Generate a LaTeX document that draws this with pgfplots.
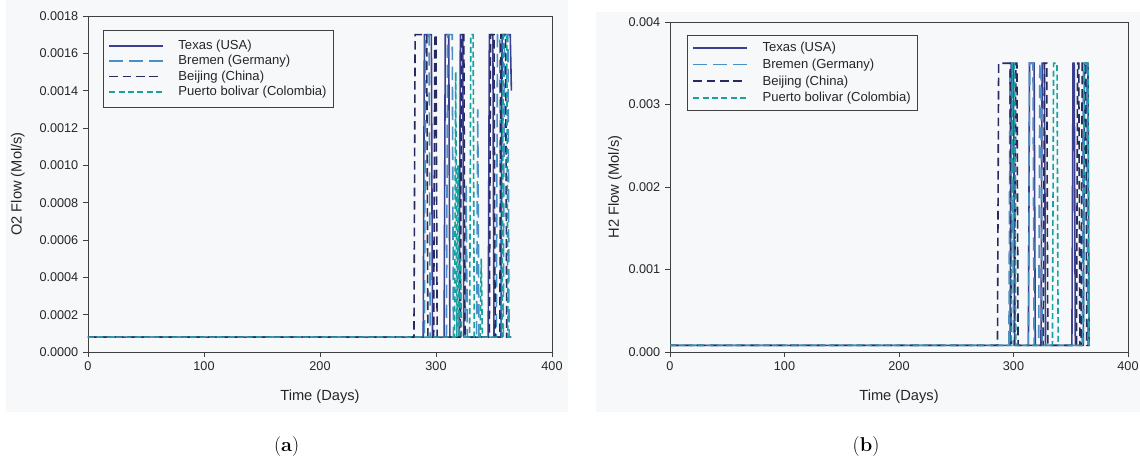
\documentclass[border=0pt]{standalone}
\usepackage{pgfplots}
\pgfplotsset{compat=1.18}
\usepackage{fontspec}
\setmainfont{Liberation Sans}
\newfontfamily\capfont{Latin Modern Roman}
\definecolor{bgc}{HTML}{F7F8F9}
\definecolor{texas}{HTML}{3B3F8F}
\definecolor{bremen}{HTML}{4A90C8}
\definecolor{beijing}{HTML}{262A5E}
\definecolor{puerto}{HTML}{17A2A0}
\pgfplotsset{
  common/.style={
    scale only axis,
    xmin=0, xmax=400,
    xtick={0,100,200,300,400},
    axis line style={draw=black!75, line width=0.6pt},
    tick style={draw=black!75, line width=0.6pt},
    tick align=outside,
    xtick pos=bottom, ytick pos=left,
    major tick length=3.75pt,
    scaled y ticks=false,
    /pgf/number format/assume math mode=true,
    tick label style={font=\fontsize{9.5}{11}\selectfont, text=black!85},
    label style={font=\fontsize{11}{13}\selectfont, text=black!85},
    legend style={draw=black!75, line width=0.6pt, fill=none,
      font=\fontsize{9.8}{11}\selectfont, text=black!85,
      inner xsep=4pt, anchor=north west,
      nodes={inner sep=1.2pt}},
    legend cell align=left,
    legend image code/.code={\draw[#1] (0pt,0pt) -- (40pt,0pt);},
    clip=false,
  },
  tx/.style={texas, line width=1.2pt},
  br/.style={bremen, line width=1.2pt, dash pattern=on 10pt off 5pt},
  bj/.style={beijing, line width=1.2pt, dash pattern=on 6.5pt off 3.5pt},
  pb/.style={puerto, line width=1.2pt, dash pattern=on 4.5pt off 2.5pt},
}
\begin{document}
\begin{tikzpicture}[x=1pt,y=1pt]
\useasboundingbox (0,0) rectangle (855,-348.75);
\fill[bgc] (4.5,0) rectangle (426,-309);
\fill[bgc] (447,-9) rectangle (855,-309);
% ---------------- panel (a)
\begin{axis}[common, at={(66pt,-12pt)}, anchor=north west,
  width=348pt, height=252pt,
  ymin=0, ymax=0.0018,
  ytick={0,0.0002,0.0004,0.0006,0.0008,0.0010,0.0012,0.0014,0.0016,0.0018},
  yticklabel style={/pgf/number format/.cd, fixed, fixed zerofill, precision=4},
  xlabel={Time (Days)}, ylabel={O2 Flow (Mol/s)},
  xlabel style={at={(axis description cs:0.5,-0.134)}, anchor=center},
  ylabel style={at={(axis description cs:-0.151,0.5)}, anchor=center},
  legend style={at={(0.032,0.958)}, inner ysep=6pt,
    /tikz/every odd column/.append style={column sep=10pt}, /tikz/row sep=0.5pt},
]
\addplot[tx] coordinates {(0,0.00008) (289,0.00008) (290,0.0017) (296,0.0017) (297,0.00008) (307,0.00008) (308,0.0017) (311,0.0017) (312,0.00008) (320,0.00008) (321,0.0017) (323,0.0017) (324,0.00008) (345,0.00008) (346,0.0017) (349,0.0017) (350,0.00008) (356,0.00008) (357,0.0017) (364,0.0017) (365,0.0014)};
\addlegendentry{Texas (USA)}
\addplot[br] coordinates {(0,0.00008) (290,0.00008) (291,0.0017) (294,0.0017) (295,0.00008) (309,0.00008) (310,0.0017) (314,0.0017) (315,0.00008) (325,0.00008) (326,0.0009) (327,0.00008) (335,0.00008) (336,0.0013) (337,0.00008) (352,0.00008) (353,0.0017) (355,0.0017) (356,0.00008) (358,0.00008) (359,0.0017) (362,0.0017) (363,0.00008) (365,0.00008)};
\addlegendentry{Bremen (Germany)}
\addplot[bj] coordinates {(0,0.00008) (281,0.00008) (282,0.0017) (292,0.0017) (293,0.00008) (298,0.00008) (299,0.0017) (300,0.0017) (301,0.00008) (321,0.00008) (322,0.0017) (324,0.0017) (325,0.00008) (346,0.00008) (347,0.0017) (350,0.0017) (351,0.00008) (355,0.00008) (356,0.0017) (360,0.0017) (361,0.00008) (365,0.00008)};
\addlegendentry{Beijing (China)}
\addplot[pb] coordinates {(0,0.00008) (316,0.00008) (317,0.0015) (318,0.00008) (319,0.0010) (320,0.00008) (321,0.0005) (322,0.00008) (329,0.00008) (330,0.0017) (332,0.0017) (333,0.00008) (338,0.00008) (339,0.0005) (340,0.00008) (357,0.00008) (358,0.0017) (361,0.0017) (362,0.00008) (366,0.00008)};
\addlegendentry{Puerto bolivar (Colombia)}
\end{axis}
% ---------------- panel (b)
\begin{axis}[common, at={(502.5pt,-16.5pt)}, anchor=north west,
  width=343.5pt, height=247.5pt,
  ymin=0, ymax=0.004,
  ytick={0,0.001,0.002,0.003,0.004},
  yticklabel style={/pgf/number format/.cd, fixed, fixed zerofill, precision=3},
  xlabel={Time (Days)}, ylabel={H2 Flow (Mol/s)},
  xlabel style={at={(axis description cs:0.5,-0.136)}, anchor=center},
  ylabel style={at={(axis description cs:-0.12,0.5)}, anchor=center},
  legend style={at={(0.037,0.961)}, inner ysep=4pt,
    /tikz/every odd column/.append style={column sep=10pt}, /tikz/row sep=1.5pt},
]
\addplot[tx] coordinates {(0,0.00008) (297,0.00008) (298,0.0035) (300,0.0035) (301,0.00008) (313,0.00008) (314,0.0035) (318,0.0035) (319,0.00008) (324,0.00008) (325,0.0035) (327,0.0035) (328,0.00008) (351,0.00008) (352,0.0035) (353,0.0035) (354,0.00008) (361,0.00008) (362,0.0035) (365,0.0035) (366,0.00008)};
\addlegendentry{Texas (USA)}
\addplot[br] coordinates {(0,0.00008) (296,0.00008) (297,0.0035) (299,0.0035) (300,0.00008) (313,0.00008) (314,0.0035) (317,0.0035) (318,0.00008) (322,0.00008) (323,0.0035) (324,0.0035) (325,0.00008) (360,0.00008) (361,0.0035) (364,0.0035) (365,0.00008) (367,0.00008)};
\addlegendentry{Bremen (Germany)}
\addplot[bj] coordinates {(0,0.00008) (286,0.00008) (287,0.0035) (297,0.0035) (298,0.00008) (301,0.00008) (302,0.0035) (303,0.0035) (304,0.00008) (326,0.00008) (327,0.0035) (329,0.0035) (330,0.00008) (355,0.00008) (356,0.0035) (357,0.0035) (358,0.00008) (359,0.00008) (360,0.0035) (363,0.0035) (364,0.00008) (366,0.00008)};
\addlegendentry{Beijing (China)}
\addplot[pb] coordinates {(0,0.00008) (298,0.00008) (299,0.0035) (301,0.0035) (302,0.00008) (334,0.00008) (335,0.0035) (338,0.0035) (339,0.00008) (361,0.00008) (362,0.0035) (365,0.0035) (366,0.00008) (367,0.00008)};
\addlegendentry{Puerto bolivar (Colombia)}
\end{axis}
\node[font=\capfont\fontsize{15}{18}\selectfont] at (215,-335) {(\textbf{a})};
\node[font=\capfont\fontsize{15}{18}\selectfont] at (649.5,-335) {(\textbf{b})};
\end{tikzpicture}
\end{document}
